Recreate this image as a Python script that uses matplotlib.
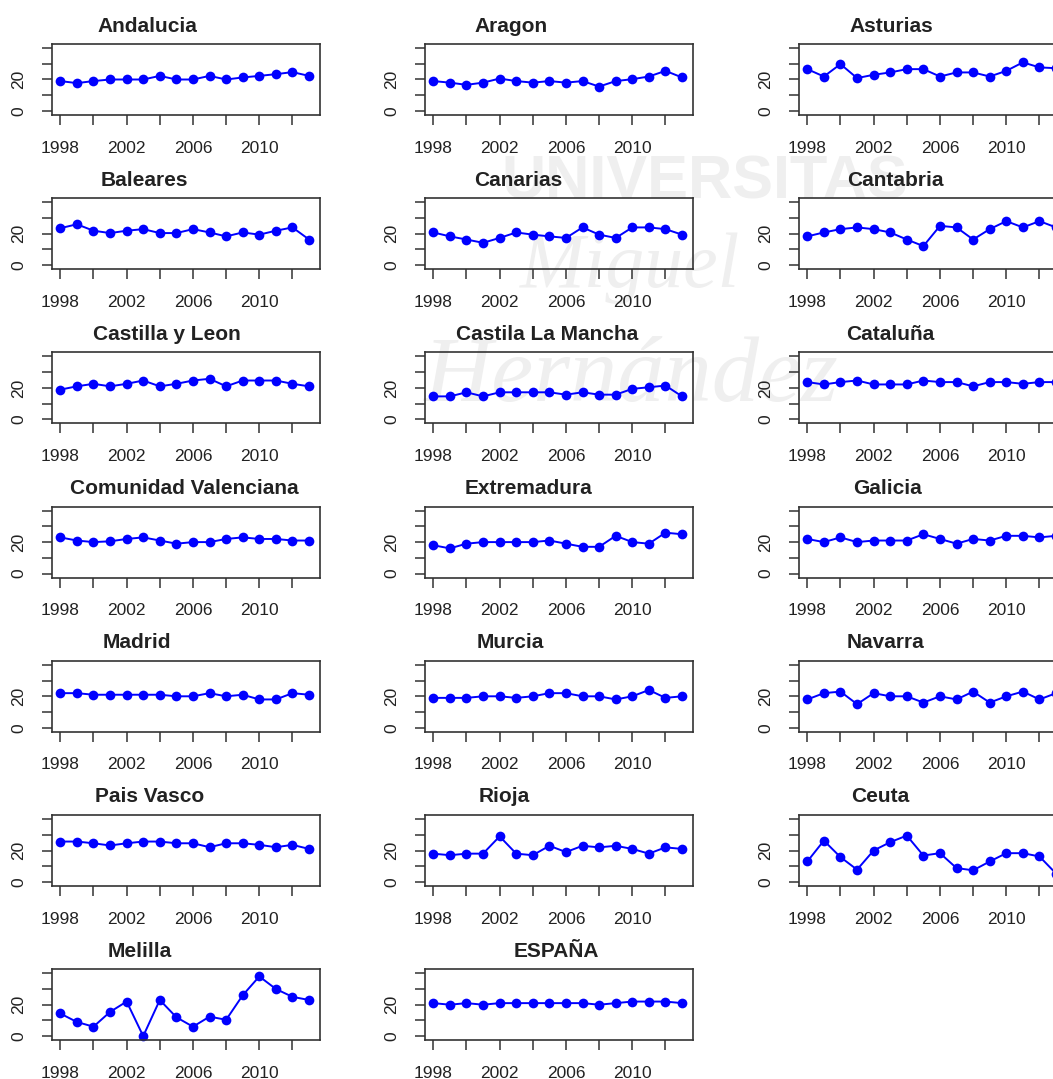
import matplotlib
matplotlib.use("Agg")
import matplotlib.pyplot as plt

# fiscal pressure by region, 1998-2013
YEARS = list(range(1998, 2014))

andalucia = [19, 17.7, 19, 20, 20, 20, 22.3, 20, 20, 22.3, 20, 21.3, 22.3, 23.4, 24.7, 22.3]
aragon = [19, 18, 16.6, 18, 20.6, 19, 18, 19, 18, 19, 15.5, 19, 20.2, 21.9, 25.5, 21.3]
asturias = [26.6, 21.9, 29.8, 20.9, 23, 24.5, 26.6, 26.6, 21.9, 24.5, 24.5, 21.9, 25.5, 30.9, 27.7, 27.2]
baleares = [23.5, 26, 21.9, 20.4, 21.9, 22.9, 20.4, 20.4, 22.9, 20.8, 18.3, 20.8, 19.4, 21.9, 24, 16.3]
canarias = [20.8, 18.3, 16.3, 14.2, 17.3, 20.8, 19.4, 18.3, 17.3, 24, 19.4, 17.3, 24, 24, 22.9, 19.4]
cantabria = [18.3, 20.8, 22.9, 24, 22.9, 20.8, 16.3, 12.1, 25, 24, 16.3, 22.9, 28, 24, 28, 24]
castilla_leon = [18.9, 21, 22.6, 21, 22.6, 24.7, 21, 22.6, 24.7, 25.8, 21, 24.7, 24.7, 24.7, 22.6, 21]
castilla_mancha = [14.6, 14.6, 17.2, 14.6, 17.2, 17.2, 17.2, 17.2, 15.7, 17.2, 15.7, 15.7, 19.4, 20.4, 21.5, 14.6]
cataluna = [23.7, 22.2, 23.7, 24.7, 22.2, 22.2, 22.2, 24.7, 23.7, 23.7, 21, 23.7, 23.7, 22.6, 23.7, 23.7]
valenciana = [23, 21, 20, 20.5, 22, 23, 21, 19, 20, 20, 22, 23, 22, 22, 21, 21]
extremadura = [18, 16, 19, 20, 20, 20, 20, 21, 19, 17, 17, 24, 20, 19, 26, 25]
galicia = [22, 20, 23, 20, 21, 21, 21, 25, 22, 19, 22, 21, 24, 24, 23, 24]
madrid = [22, 22, 21, 21, 21, 21, 21, 20, 20, 22, 20, 21, 18, 18, 22, 21]
murcia = [19, 19, 19, 20, 20, 19, 20, 22, 22, 20, 20, 18, 20, 24, 19, 20]
navarra = [18, 22, 23, 15, 22, 20, 20, 16, 20, 18, 23, 16, 20, 23, 18, 22]
pais_vasco = [25.7, 25.7, 24.6, 23.2, 24.6, 25.7, 25.7, 24.6, 24.6, 22.1, 24.6, 24.6, 23.6, 22.1, 23.6, 21]
rioja = [18, 17, 18, 18, 29, 18, 17, 23, 19, 23, 22, 23, 21, 18, 22, 21]
ceuta = [13, 26.3, 15.8, 7.8, 20, 25.3, 29.5, 16.8, 18.3, 8.8, 7.4, 13, 18.3, 18.3, 16.2, 5.3]
melilla = [14.4, 9, 6, 15.4, 22, 0, 23, 12, 6, 12.4, 10.4, 26, 38, 30, 25, 23]
espana = [21, 20, 21, 20, 21, 21, 21, 21, 21, 21, 20, 21, 22, 22, 22, 21]

NAMES = ["Andalucia", "Aragon", "Asturias",
         "Baleares", "Canarias", "Cantabria",
         "Castilla y Leon", "Castila La Mancha", "Cataluña",
         "Comunidad Valenciana", "Extremadura", "Galicia",
         "Madrid", "Murcia", "Navarra",
         "Pais Vasco", "Rioja", "Ceuta",
         "Melilla", "ESPAÑA"]
SERIES = [andalucia, aragon, asturias, baleares, canarias, cantabria,
          castilla_leon, castilla_mancha, cataluna, valenciana, extremadura,
          galicia, madrid, murcia, navarra, pais_vasco, rioja, ceuta,
          melilla, espana]

X_TICKS = [1998, 2000, 2002, 2004, 2006, 2008, 2010, 2012]
X_LABELS = ["1998", "", "2002", "", "2006", "", "2010", ""]
Y_TICKS = [0, 10, 20, 30, 40]
Y_LABELS = ["0", "", "20", "", ""]

# layout in pixels (the right column runs off the edge, as in the original)
W, H = 1053, 1079
COL_LEFT = [52, 425, 799]
ROW_TOP = [44 + 154.2 * i for i in range(7)]
BOX_W, BOX_H = 268, 71
TITLE_DX = [95, 86, 92, 92, 93, 96, 115, 122, 91, 132, 103, 88,
            85, 85, 87, 98, 79, 81, 88, 131]

plt.rcParams["font.family"] = ["Liberation Sans", "DejaVu Sans"]
TXT = "#222222"
WM = "#efefef"

fig = plt.figure(figsize=(W / 100, H / 100), dpi=100)

# faint watermark behind the panels
fig.text(705 / W, 1 - 183 / H, "UNIVERSITAS", fontsize=44, fontweight="bold",
         color=WM, ha="center", va="center", zorder=-1)
fig.text(630 / W, 1 - 268 / H, "Miguel", fontsize=56, style="italic",
         family="Liberation Serif", color=WM, ha="center", va="center", zorder=-1)
fig.text(630 / W, 1 - 378 / H, "Hernández", fontsize=68, style="italic",
         family="Liberation Serif", color=WM, ha="center", va="center", zorder=-1)

for i, (name, vals) in enumerate(zip(NAMES, SERIES)):
    r, c = divmod(i, 3)
    left = COL_LEFT[c]
    top = ROW_TOP[r]
    ax = fig.add_axes([left / W, 1 - (top + BOX_H) / H, BOX_W / W, BOX_H / H])
    ax.set_facecolor("none")
    ax.plot(YEARS, vals, color="#0000ff", lw=1.4, marker="o", ms=7,
            markeredgewidth=0, clip_on=False)
    ax.set_xlim(1997.5, 2013.66)
    ax.set_ylim(-2.6, 42.6)
    ax.set_xticks(X_TICKS)
    ax.set_xticklabels(X_LABELS)
    ax.set_yticks(Y_TICKS)
    ax.set_yticklabels(Y_LABELS, rotation=90, va="center")
    ax.tick_params(axis="both", direction="out", length=7.5, width=1.1,
                   colors="#333333", labelcolor=TXT, labelsize=12.5)
    ax.tick_params(axis="x", pad=11)
    ax.tick_params(axis="y", pad=11)
    for sp in ax.spines.values():
        sp.set_linewidth(1.2)
        sp.set_color("#333333")
    ax.text(TITLE_DX[i] / BOX_W, 1 + 18 / BOX_H, name, transform=ax.transAxes,
            ha="center", va="center", fontsize=15, fontweight="bold", color=TXT)

fig.savefig("out.png", dpi=100)
